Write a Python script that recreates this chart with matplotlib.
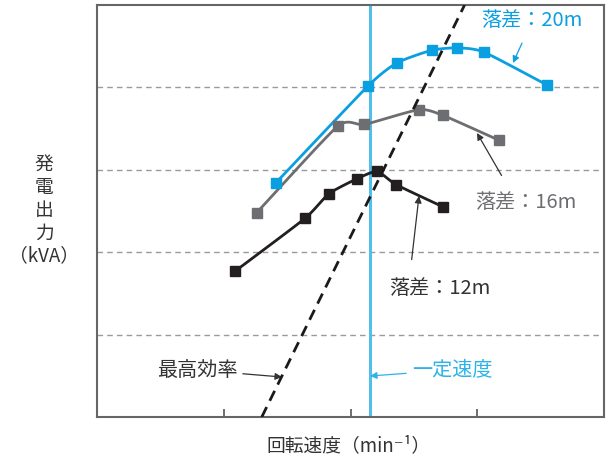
import numpy as np
import matplotlib
matplotlib.use("Agg")
import matplotlib.pyplot as plt

plt.rcParams['font.family'] = ['Noto Sans CJK JP', 'DejaVu Sans']

# ---- data ----
speed_20 = [1.41, 2.14, 2.37, 2.64, 2.84, 3.05, 3.55]
power_20 = [2.84, 4.02, 4.30, 4.45, 4.48, 4.43, 4.03]

speed_16 = [1.26, 1.90, 2.11, 2.54, 2.73, 3.17]
power_16 = [2.48, 3.53, 3.55, 3.73, 3.66, 3.36]

speed_12 = [1.09, 1.64, 1.83, 2.05, 2.21, 2.36, 2.73]
power_12 = [1.77, 2.41, 2.71, 2.89, 2.98, 2.82, 2.55]

const_speed = 2.15
best_eff_x = [1.30, 2.90]
best_eff_y = [0.0, 5.0]

x_ticks = [1, 2, 3]
y_grid = [1, 2, 3, 4]


def smooth(xs, ys, n=20, k=0.3):
    """Cardinal-spline path through the given points (drawing only)."""
    p = np.column_stack([xs, ys]).astype(float)
    m = np.zeros_like(p)
    m[1:-1] = k * (p[2:] - p[:-2])
    m[0] = k * 2 * (p[1] - p[0])
    m[-1] = k * 2 * (p[-1] - p[-2])
    t = np.linspace(0, 1, n, endpoint=False)[:, None]
    h00 = 2 * t ** 3 - 3 * t ** 2 + 1
    h10 = t ** 3 - 2 * t ** 2 + t
    h01 = -2 * t ** 3 + 3 * t ** 2
    h11 = t ** 3 - t ** 2
    out = []
    for i in range(len(p) - 1):
        out.append(h00 * p[i] + h10 * m[i] + h01 * p[i + 1] + h11 * m[i + 1])
    out.append(p[-1][None, :])
    out = np.vstack(out)
    return out[:, 0], out[:, 1]


fig = plt.figure(figsize=(6.09, 4.61), dpi=100)
ax = fig.add_axes([97 / 609, 1 - 417 / 461, 507 / 609, 412 / 461])
ax.set_xlim(0, 4)
ax.set_ylim(0, 5)

for g in y_grid:
    ax.axhline(g, color='#9a9a9a', lw=1.0, ls=(0, (4, 3)), zorder=1)

ax.axvline(const_speed, color='#55bde9', lw=2.2, zorder=2)
ax.plot(best_eff_x, best_eff_y, color='#1a1a1a', lw=2.0, ls=(0, (4, 2.5)), zorder=5)

blue = '#0a9fe0'
gray = '#6d6e71'
black = '#231f20'
for xs, ys, c in [(speed_20, power_20, blue), (speed_16, power_16, gray), (speed_12, power_12, black)]:
    sx, sy = smooth(xs, ys)
    ax.plot(sx, sy, color=c, lw=2.0, zorder=3, solid_capstyle='butt')
    ax.plot(xs, ys, ls='none', marker='s', ms=7.5, color=c, mec=c, zorder=4)

for s in ax.spines.values():
    s.set_color('#666666')
    s.set_linewidth(1.5)
ax.set_xticks(x_ticks)
ax.set_xticklabels([])
ax.set_yticks([])
ax.tick_params(axis='x', direction='in', length=6, width=1.2, color='#555555')

def px(x, y):
    return ((x - 97) / 126.75, (417 - y) / 82.4)

fs = 14.5
arrow_kw = dict(arrowstyle='-|>', lw=0.9, mutation_scale=10)

ax.annotate('落差：20m', xy=px(513, 63), xytext=px(532, 21), color=blue, fontsize=fs,
            ha='center', va='center',
            arrowprops=dict(color=blue, shrinkA=7, shrinkB=0, **arrow_kw))
ax.annotate('落差：16m', xy=px(477, 133), xytext=px(526, 202), color=gray, fontsize=fs,
            ha='center', va='center',
            arrowprops=dict(color='#333333', shrinkA=11, shrinkB=0, relpos=(0.35, 1.0), **arrow_kw))
ax.annotate('落差：12m', xy=px(419, 196), xytext=px(440, 288), color='#333333', fontsize=fs,
            ha='center', va='center',
            arrowprops=dict(color='#333333', shrinkA=11, shrinkB=0, relpos=(0.2, 1.0), **arrow_kw))
ax.annotate('最高効率', xy=px(282, 377), xytext=px(197, 370), color='#333333', fontsize=fs,
            ha='center', va='center',
            arrowprops=dict(color='#333333', shrinkA=2, shrinkB=0, **arrow_kw))
ax.annotate('一定速度', xy=px(370, 376), xytext=px(452, 370), color='#2cb3ea', fontsize=fs,
            ha='center', va='center',
            arrowprops=dict(color='#2cb3ea', shrinkA=2, shrinkB=0, **arrow_kw))

fig.text(349 / 609, 1 - 446 / 461, '回転速度（min⁻¹）', fontsize=13.5, color='#333333',
         ha='center', va='center')
fig.text(44 / 609, 1 - 210 / 461, '発\n電\n出\n力\n（kVA）', fontsize=13.5, color='#333333',
         ha='center', va='center', linespacing=1.12, multialignment='center')

fig.savefig('out.png', dpi=100)
